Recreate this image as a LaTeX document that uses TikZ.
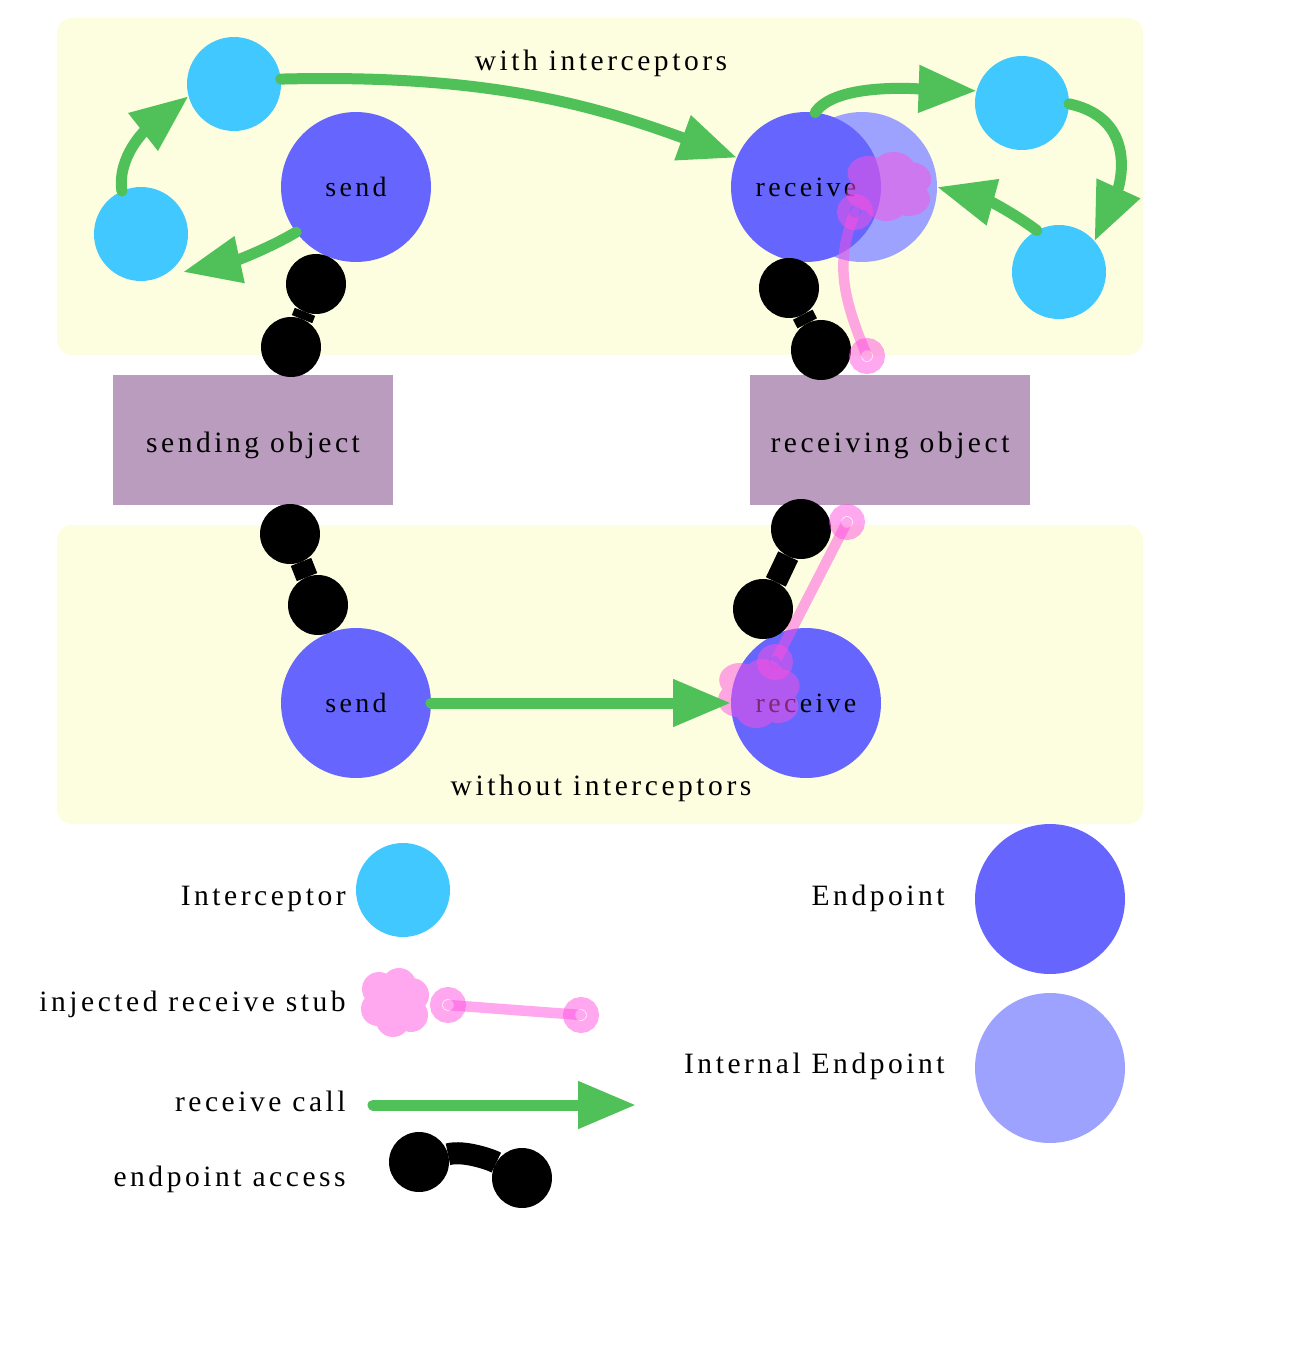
\documentclass[tikz,border=0pt]{standalone}
\usepackage{fontspec}
\setmainfont{Liberation Serif}[LetterSpace=12]
\usetikzlibrary{arrows.meta,calc}
\definecolor{panelY}{HTML}{FDFDE0}
\definecolor{cyanI}{HTML}{40C8FF}
\definecolor{blueE}{HTML}{6666FF}
\definecolor{blueL}{HTML}{9DA2FF}
\definecolor{greenA}{HTML}{50C058}
\definecolor{objP}{HTML}{BA9CBE}
\definecolor{pinkS}{HTML}{FF50E0}
\tikzset{
 panel/.style={fill=panelY, rounded corners=0.3cm},
 interc/.style={circle, fill=cyanI, minimum size=1.88cm, inner sep=0pt, outer sep=0pt},
 endpt/.style={circle, fill=blueE, minimum size=3cm, inner sep=0pt, outer sep=0pt, font=\fontsize{15.9}{19}\selectfont},
 intendpt/.style={endpt, fill=blueL},
 obj/.style={rectangle, fill=objP, minimum width=5.6cm, minimum height=2.6cm, inner sep=0pt},
 txt/.style={inner sep=0pt, font=\fontsize{16.8}{20}\selectfont},
 ball/.style={circle, fill=black, minimum size=1.2cm, inner sep=0pt, outer sep=0pt},
 access/.style={line width=0.44cm, draw=black},
 call/.style={line width=0.22cm, draw=greenA, line cap=round, -{Triangle[length=1.16cm,width=0.9cm]}},
 ring/.style={circle, draw=pinkS, draw opacity=0.5, line width=0.24cm, minimum size=0.48cm, inner sep=0pt, outer sep=0pt},
 stub/.style={draw=pinkS, draw opacity=0.5, line width=0.21cm, line cap=round},
 cloudpic/.pic={\fill[pinkS, fill opacity=0.5] (0,0) circle[radius=20] (-17,-14) circle[radius=17] (3,-18) circle[radius=17] (16,-8) circle[radius=17] (-18,6) circle[radius=17] (-3,17) circle[radius=17] (15,12) circle[radius=17];}
}
\begin{document}
\begin{tikzpicture}[x=0.02cm,y=-0.02cm]
\useasboundingbox (0,0) rectangle (1294,1356);
\fill[white] (0,0) rectangle (1294,1356);
% panels
\fill[panel] (57,18) rectangle (1143,355);
\fill[panel] (57,525) rectangle (1143,824);
% objects
\node[obj] (so) at (253,440) {};
\node[txt, anchor=base] (sot) at (253,452) {sending object};
\node[obj] (ro) at (890,440) {};
\node[txt, anchor=base] (rot) at (890,452) {receiving object};
% endpoints
\node[intendpt] (ie) at (862,187) {};
\node[endpt] (st) at (356,187) {send};
\node[endpt] (rt) at (806,187) {receive};
\node[endpt] (sb) at (356,703) {send};
\node[endpt] (rb) at (806,703) {receive};
% interceptors
\node[interc] (i1) at (234,84) {};
\node[interc] (i2) at (141,234) {};
\node[interc] (i3) at (1022,103) {};
\node[interc] (i4) at (1059,272) {};
% titles
\node[txt, anchor=base] (t1) at (601,70) {with interceptors};
\node[txt, anchor=base] (t2) at (601,795) {without interceptors};
% endpoint access
\node[ball] (b1) at (316,284) {};
\node[ball] (b2) at (291,347) {};
\draw[access] (b1) -- (b2);
\node[ball] (b3) at (789,288) {};
\node[ball] (b4) at (821,350) {};
\draw[access] (b3) -- (b4);
\node[ball] (b5) at (290,534) {};
\node[ball] (b6) at (318,605) {};
\draw[access] (b5) -- (b6);
\node[ball] (b7) at (801,529) {};
\node[ball] (b8) at (763,609) {};
\draw[access] (b7) -- (b8);
% injected stubs
\pic[xscale=1.25] at (890,187) {cloudpic};
\node[ring] (r1) at (855,212) {};
\node[ring] (r2) at (867,356) {};
\draw[stub] (r1.center) .. controls +(-20,50) and +(-25,-60) .. (r2.center);
\pic[xscale=1.2] at (760,694) {cloudpic};
\node[ring] (r3) at (775,662) {};
\node[ring] (r4) at (847,522) {};
\draw[stub] (r3.center) -- (r4.center);
% receive calls
\draw[call] (i1.6) .. controls +(200,-5) and +(-150,-55) .. (rt.157);
\draw[call] (i2.114) .. controls +(-5,-35) and +(-42,33) .. (i1.195);
\draw[call] (st.217) .. controls +(-25,15) and +(55,-12) .. ($(i2.center)+(42,38)$);
\draw[call] (rt.83) .. controls +(20,-30) and +(-60,-2) .. (i3.165);
\draw[call] (i3.-1) .. controls +(70,15) and +(25,-55) .. (i4.41);
\draw[call] (i4.118) .. controls +(-20,-15) and +(55,15) .. (ie.0);
\draw[call] (sb.east) -- (rb.west);
% legend
\node[txt, anchor=base east] (lg1) at (346,905) {Interceptor};
\node[interc] (li) at (403,890) {};
\node[txt, anchor=base east] (lg2) at (346,1011) {injected receive stub};
\pic at (396,1003) {cloudpic};
\node[ring] (r5) at (448,1005) {};
\node[ring] (r6) at (581,1015) {};
\draw[stub] (r5.center) -- (r6.center);
\node[txt, anchor=base east] (lg3) at (346,1111) {receive call};
\coordinate (la) at (373,1105);
\coordinate (lb) at (636,1105);
\draw[call] (la) -- (lb);
\node[txt, anchor=base east] (lg4) at (346,1186) {endpoint access};
\node[ball] (b9) at (419,1162) {};
\node[ball] (b10) at (522,1178) {};
\draw[access] (b9) .. controls +(45,-12) and +(-30,-18) .. (b10);
\node[txt, anchor=base east] (lg5) at (945,905) {Endpoint};
\node[endpt] (le) at (1050,899) {};
\node[txt, anchor=base east] (lg6) at (945,1073) {Internal Endpoint};
\node[intendpt] (lie) at (1050,1068) {};
\end{tikzpicture}
\end{document}
